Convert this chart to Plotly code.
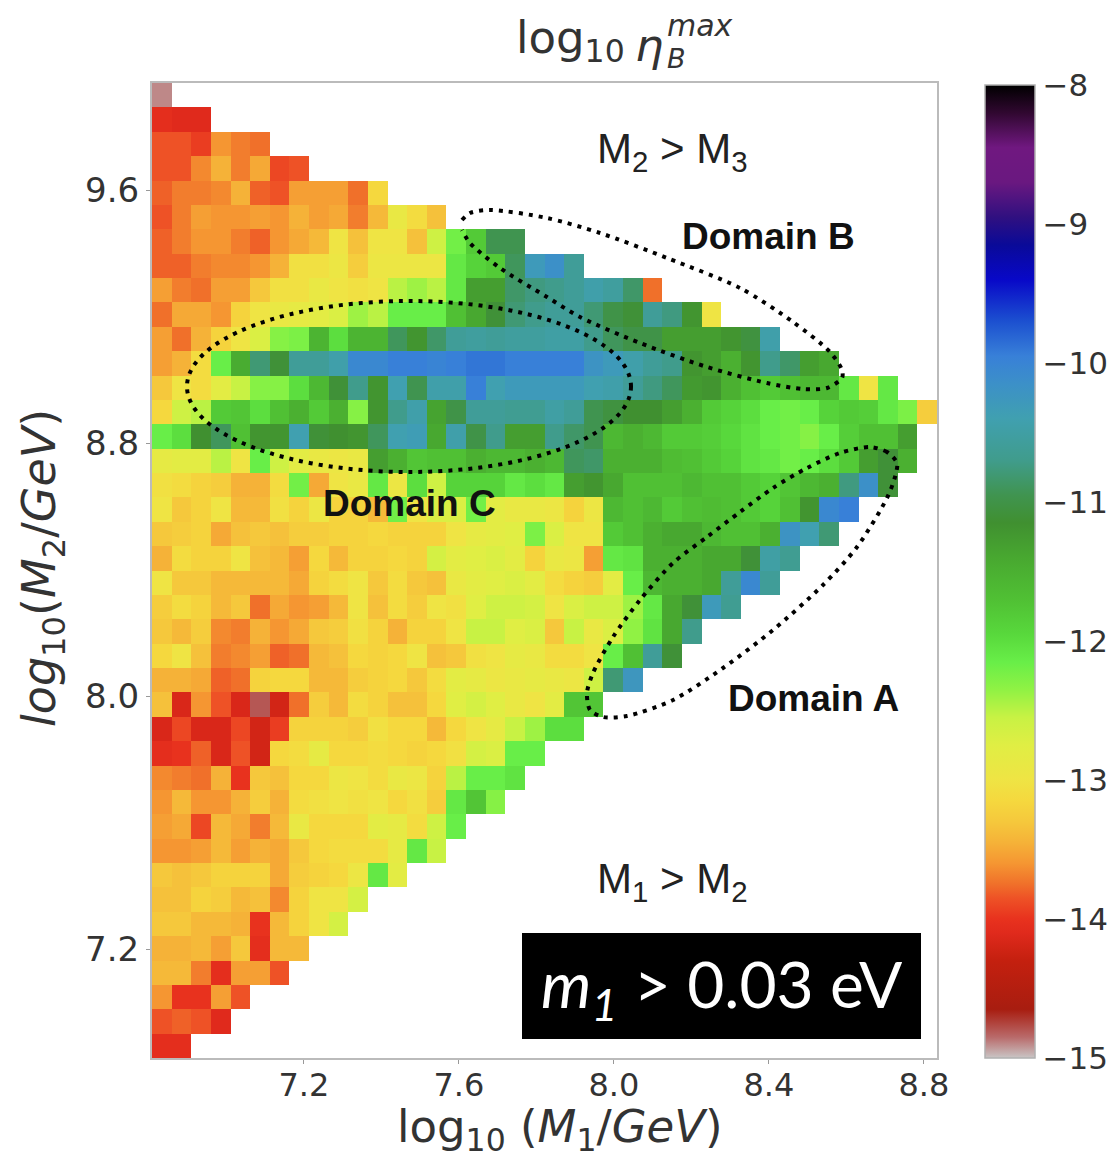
import plotly.graph_objects as go

row_00 = [-14.9]
row_01 = [-14.05,-14.1,-14.1]
row_02 = [-13.85,-13.85,-13.95,-13.6,-13.7,-13.75]
row_03 = [-13.85,-13.85,-13.65,-13.45,-13.7,-13.5,-13.9,-13.85]
row_04 = [-13.8,-13.7,-13.7,-13.65,-13.45,-13.8,-13.85,-13.55,-13.55,-13.55,-13.75,-13.15]
row_05 = [-13.85,-13.7,-13.55,-13.6,-13.6,-13.55,-13.6,-13.45,-13.55,-13.5,-13.7,-13.4,-12.9,-13.1,-13.35]
row_06 = [-13.8,-13.7,-13.6,-13.6,-13.7,-13.8,-13.6,-13.5,-13.4,-13.0,-13.35,-13.0,-13.0,-13.35,-12.6,-12.2,-11.8,-10.95,-10.95]
row_07 = [-13.8,-13.8,-13.7,-13.65,-13.65,-13.6,-13.45,-13.05,-13.05,-12.95,-13.25,-12.95,-12.95,-12.95,-12.95,-12.1,-11.9,-11.8,-10.9,-10.3,-10.15,-10.6]
row_08 = [-13.55,-13.7,-13.75,-13.55,-13.55,-13.3,-13.05,-13.05,-12.9,-13.0,-13.05,-13.0,-12.5,-12.4,-12.5,-12.1,-11.3,-11.3,-10.85,-10.75,-10.7,-10.6,-10.45,-10.55,-10.85,-13.75]
row_09 = [-13.75,-13.5,-13.5,-13.6,-13.2,-13.0,-12.9,-12.85,-12.8,-12.7,-12.4,-12.5,-12.15,-12.15,-12.15,-11.7,-11.4,-11.1,-10.8,-10.7,-10.6,-10.6,-10.8,-11.0,-11.1,-10.6,-10.75,-11.2,-13.0]
row_10 = [-13.55,-13.75,-13.45,-13.2,-13.0,-12.7,-12.3,-12.25,-11.55,-12.0,-11.55,-11.55,-10.9,-11.2,-10.85,-10.6,-10.55,-10.6,-10.55,-10.55,-10.5,-10.5,-10.7,-10.9,-11.0,-11.0,-11.3,-11.3,-11.3,-11.2,-11.05,-10.45]
row_11 = [-13.55,-13.45,-13.1,-12.15,-11.45,-10.8,-11.1,-10.6,-10.6,-10.45,-10.05,-10.05,-9.95,-9.95,-10.0,-9.95,-9.9,-9.9,-9.95,-9.95,-9.95,-9.95,-10.2,-10.3,-10.45,-10.6,-10.7,-11.2,-11.3,-11.5,-11.2,-10.7,-10.85,-11.3,-11.4]
row_12 = [-13.3,-13.0,-13.1,-12.8,-12.55,-12.3,-12.3,-12.0,-11.6,-11.1,-10.7,-11.2,-10.4,-10.95,-10.45,-10.45,-9.95,-10.4,-10.3,-10.3,-10.3,-10.3,-10.4,-10.45,-10.6,-10.75,-10.9,-11.25,-11.2,-11.5,-11.7,-11.8,-11.7,-11.6,-11.6,-12.1,-13.0,-12.1]
row_13 = [-13.15,-12.6,-12.5,-11.8,-11.75,-12.0,-11.7,-11.5,-11.8,-11.5,-12.3,-11.2,-10.7,-10.45,-11.35,-11.0,-10.6,-10.6,-10.65,-10.65,-10.5,-10.6,-10.95,-11.05,-11.15,-11.15,-11.3,-11.5,-11.8,-11.9,-12.0,-12.15,-12.2,-12.15,-11.9,-11.8,-11.85,-12.1,-12.25,-13.25]
row_14 = [-12.15,-12.0,-11.15,-10.9,-11.7,-11.2,-11.2,-10.4,-11.1,-11.15,-11.2,-10.9,-10.4,-10.35,-11.4,-10.45,-11.0,-10.7,-11.3,-11.3,-10.7,-10.85,-10.95,-11.6,-11.5,-11.6,-11.8,-11.8,-11.85,-11.95,-12.05,-12.15,-12.2,-12.3,-12.15,-11.85,-11.7,-11.7,-11.3]
row_15 = [-12.85,-12.8,-12.8,-12.5,-13.0,-12.15,-12.6,-12.8,-12.9,-12.95,-12.9,-11.3,-11.5,-11.75,-11.7,-11.7,-11.5,-11.6,-11.6,-11.5,-11.6,-10.9,-10.85,-11.5,-11.5,-11.5,-11.65,-11.7,-11.8,-11.9,-12.05,-12.1,-12.2,-12.15,-12.0,-11.8,-11.3,-11.1,-11.5]
row_16 = [-13.05,-13.1,-13.2,-13.25,-13.45,-13.45,-13.1,-12.2,-13.5,-13.0,-12.9,-12.1,-12.95,-12.0,-12.6,-11.9,-11.9,-11.9,-12.1,-12.0,-12.1,-11.3,-11.2,-11.4,-11.7,-11.7,-11.7,-11.6,-11.7,-11.7,-11.8,-11.9,-11.75,-11.6,-11.5,-10.75,-10.15,-11.1]
row_17 = [-13.0,-13.3,-13.2,-13.0,-13.4,-13.4,-13.05,-13.2,-12.95,-13.2,-13.2,-13.4,-12.2,-13.0,-12.7,-12.7,-12.2,-12.8,-12.9,-12.9,-12.95,-13.2,-12.95,-11.6,-11.7,-11.6,-11.8,-11.7,-11.65,-11.7,-11.8,-11.9,-11.7,-11.2,-10.05,-9.95]
row_18 = [-13.3,-13.25,-13.2,-13.5,-13.35,-13.3,-13.35,-13.25,-13.25,-13.2,-13.2,-13.15,-13.2,-13.2,-13.2,-13.0,-12.85,-12.8,-12.75,-12.25,-12.7,-13.0,-13.0,-11.8,-11.7,-11.5,-11.4,-11.4,-11.6,-11.7,-11.7,-11.5,-10.2,-10.4,-10.8]
row_19 = [-13.45,-13.1,-13.2,-13.2,-13.0,-13.35,-13.4,-13.55,-13.15,-13.4,-13.2,-13.2,-13.15,-13.2,-12.65,-12.8,-12.75,-12.7,-12.8,-13.2,-12.9,-12.95,-13.55,-12.1,-12.05,-11.5,-11.5,-11.5,-11.4,-11.4,-11.1,-10.5,-10.65]
row_20 = [-13.0,-13.3,-13.3,-13.4,-13.4,-13.4,-13.4,-13.5,-13.2,-13.1,-13.0,-13.3,-13.1,-13.3,-13.35,-12.9,-12.8,-12.75,-12.7,-12.8,-13.1,-13.2,-13.25,-12.8,-12.15,-11.6,-11.5,-11.5,-11.4,-10.6,-10.05,-10.6]
row_21 = [-13.25,-13.1,-13.2,-13.4,-13.3,-13.75,-13.5,-13.6,-13.55,-13.4,-13.0,-13.35,-13.1,-13.25,-13.0,-13.05,-12.75,-12.6,-12.6,-12.65,-13.0,-12.7,-12.6,-12.6,-12.4,-12.1,-11.4,-11.1,-10.3,-10.65]
row_22 = [-13.3,-13.4,-13.25,-13.65,-13.7,-13.45,-13.6,-13.5,-13.3,-13.25,-13.05,-13.2,-13.45,-13.2,-13.2,-13.0,-12.55,-12.55,-12.75,-12.7,-13.3,-12.55,-12.9,-12.7,-12.35,-12.05,-11.4,-10.7]
row_23 = [-13.15,-13.0,-13.35,-13.7,-13.65,-13.55,-13.8,-13.75,-13.4,-13.35,-13.15,-13.2,-13.15,-13.0,-13.35,-13.3,-13.05,-13.0,-12.85,-12.9,-13.1,-13.1,-13.0,-12.15,-11.7,-10.6,-11.1]
row_24 = [-13.45,-13.45,-13.5,-13.8,-13.75,-13.2,-13.15,-13.15,-13.4,-13.4,-13.25,-13.2,-13.15,-13.3,-13.1,-12.8,-12.85,-12.95,-12.9,-12.85,-12.9,-12.95,-12.6,-10.8,-10.25]
row_25 = [-13.35,-14.15,-13.6,-13.85,-14.15,-14.8,-14.2,-13.75,-13.25,-13.4,-13.1,-13.2,-13.35,-13.35,-13.15,-12.75,-12.65,-12.75,-12.9,-13.0,-12.8,-11.75,-11.75]
row_26 = [-14.15,-13.9,-14.15,-14.15,-13.9,-14.2,-13.95,-13.2,-13.2,-13.2,-13.25,-13.05,-13.15,-13.15,-13.4,-13.15,-13.0,-12.85,-12.55,-12.4,-12.0,-12.0]
row_27 = [-14.05,-14.0,-13.8,-14.15,-13.85,-14.2,-13.15,-13.1,-12.85,-13.15,-13.15,-13.1,-13.15,-13.2,-13.15,-13.05,-12.65,-12.7,-12.15,-12.15]
row_28 = [-13.65,-13.7,-13.75,-13.45,-14.0,-13.3,-13.35,-13.15,-13.15,-12.95,-13.0,-13.1,-12.9,-12.95,-13.2,-12.5,-12.15,-12.15,-12.05]
row_29 = [-13.6,-13.4,-13.6,-13.6,-13.45,-13.25,-13.45,-13.1,-13.05,-13.0,-13.05,-13.0,-13.15,-13.05,-13.25,-12.1,-11.75,-12.3]
row_30 = [-13.55,-13.5,-13.9,-13.4,-13.5,-13.7,-13.4,-12.9,-13.15,-13.15,-13.15,-12.8,-12.85,-13.1,-12.6,-12.15]
row_31 = [-13.6,-13.6,-13.55,-13.4,-13.55,-13.45,-13.5,-13.3,-13.15,-13.1,-13.1,-13.1,-12.85,-12.1,-12.55]
row_32 = [-13.3,-13.35,-13.3,-13.2,-13.2,-13.2,-13.5,-13.25,-13.2,-13.15,-12.95,-12.1,-12.8]
row_33 = [-13.35,-13.35,-13.2,-13.25,-13.4,-13.35,-13.65,-13.2,-13.0,-13.0,-12.65]
row_34 = [-13.3,-13.3,-13.4,-13.4,-13.45,-14.0,-13.4,-13.2,-13.0,-12.65]
row_35 = [-13.45,-13.45,-13.4,-13.55,-13.3,-14.05,-13.4,-13.4]
row_36 = [-13.4,-13.4,-13.7,-14.05,-13.55,-13.55,-13.85]
row_37 = [-13.6,-14.0,-14.0,-13.55,-13.85]
row_38 = [-13.85,-13.8,-13.85,-14.1]
row_39 = [-14.05,-14.05]

rows_top_down = [row_00,row_01,row_02,row_03,row_04,row_05,row_06,row_07,row_08,row_09,
                 row_10,row_11,row_12,row_13,row_14,row_15,row_16,row_17,row_18,row_19,
                 row_20,row_21,row_22,row_23,row_24,row_25,row_26,row_27,row_28,row_29,
                 row_30,row_31,row_32,row_33,row_34,row_35,row_36,row_37,row_38,row_39]

x_ticks = [7.2, 7.6, 8.0, 8.4, 8.8]
y_ticks = [7.2, 8.0, 8.8, 9.6]
cbar_ticks = [-8, -9, -10, -11, -12, -13, -14, -15]

color_stops = [(-15,"#c9c5c5"),(-14.85,"#b96a6a"),(-14.65,"#a81d10"),(-14.3,"#c4200f"),(-14.1,"#e02a1c"),
 (-14.0,"#e8321e"),(-13.85,"#ee5226"),(-13.75,"#f0702a"),(-13.6,"#f59632"),(-13.45,"#f5b238"),(-13.3,"#f5c83c"),
 (-13.15,"#f5d83e"),(-13.0,"#efe444"),(-12.75,"#e0ee44"),(-12.55,"#c8f244"),(-12.35,"#90f244"),(-12.15,"#68ee48"),
 (-11.95,"#58d83c"),(-11.7,"#50c034"),(-11.4,"#48a830"),(-11.15,"#409030"),(-10.95,"#409450"),(-10.7,"#409c8c"),
 (-10.4,"#40a0b0"),(-10.15,"#3c90c8"),(-9.95,"#3880d8"),(-9.7,"#1c50d0"),(-9.4,"#0808c8"),(-9.15,"#0a0a98"),
 (-8.95,"#301080"),(-8.7,"#6a1880"),(-8.45,"#701880"),(-8.2,"#300830"),(-8,"#000000")]

# hand-drawn outlines, in axis units
domain_b_x = [6.808+(p-152)/387.5 for p in [462,470,490,547,600,667,740,793,830,842,842,827,803,767,707,640,580,547,500,470,462]]
domain_b_y = [7.2+(949-p)/316.25 for p in [220,213,210,218,233,258,288,322,352,370,378,388,389,383,367,343,317,297,268,243,230]]
domain_a_x = [6.808+(p-152)/387.5 for p in [897,887,870,840,807,773,740,707,673,640,613,593,587,590,603,627,673,723,773,823,857,887,895,897]]
domain_a_y = [7.2+(949-p)/316.25 for p in [463,452,447,453,468,488,512,537,563,600,637,673,693,710,717,716,700,668,630,585,547,498,477,463]]

W, H = 1115, 1158
L, R, T, B = 152, 937, 83, 1058
X_PER = 387.5
Y_PER = 316.25
x_lo = 6.808
x_hi = x_lo + (R - L) / X_PER
y_lo = 7.2 - (B - 949) / Y_PER
y_hi = 7.2 + (949 - T) / Y_PER
n = 40
dx = (x_hi - x_lo) / n
dy = (y_hi - y_lo) / n

z = []
for row in reversed(rows_top_down):
    z.append(list(row) + [None] * (n - len(row)))

cs = [[(v + 15) / 7, c] for v, c in color_stops]

def px(p):
    return (p - L) / (R - L)
def py(p):
    return (B - p) / (B - T)

fig = go.Figure()
fig.add_trace(go.Heatmap(
    z=z, x0=x_lo + dx / 2, dx=dx, y0=y_lo + dy / 2, dy=dy,
    zmin=-15, zmax=-8, colorscale=cs, hoverongaps=False, xgap=0, ygap=0,
    colorbar=dict(
        x=px(985), xanchor="left", xpad=0, y=py(1058), yanchor="bottom", ypad=0,
        len=973, lenmode="pixels", thickness=50, thicknessmode="pixels",
        outlinecolor="#b0b0b0", outlinewidth=1.5,
        tickvals=cbar_ticks, ticktext=["\u2212" + str(-v) for v in cbar_ticks],
        ticks="", ticklabelposition="outside",
        tickfont=dict(family="DejaVu Sans", size=31, color="#333333"),
    ),
))
dash = "4px,6px"
for xs, ys in ((domain_b_x, domain_b_y), (domain_a_x, domain_a_y)):
    fig.add_trace(go.Scatter(x=xs, y=ys, mode="lines", showlegend=False, hoverinfo="skip",
                             line=dict(color="black", width=4, dash=dash, shape="spline", smoothing=0.8)))

def ann(text, x, y, size, family="Liberation Sans", color="#222222", xanchor="center", textangle=0):
    fig.add_annotation(text=text, x=px(x), y=py(y), xref="paper", yref="paper", showarrow=False,
                       xanchor=xanchor, yanchor="middle", textangle=textangle,
                       font=dict(family=family, size=size, color=color))

fig.update_layout(
    width=W, height=H, margin=dict(l=L, r=W - R, t=T, b=H - B),
    paper_bgcolor="white", plot_bgcolor="white", showlegend=False,
    xaxis=dict(range=[x_lo, x_hi], tickvals=x_ticks, ticktext=[f"{v:.1f}" for v in x_ticks],
               ticks="outside", ticklen=4, tickcolor="#999999", showgrid=False, zeroline=False,
               showline=True, linecolor="#bbbbbb", linewidth=2, mirror=True, ticklabelstandoff=-6,
               tickfont=dict(family="DejaVu Sans", size=32, color="#333333")),
    yaxis=dict(range=[y_lo, y_hi], tickvals=y_ticks, ticktext=[f"{v:.1f}" for v in y_ticks],
               ticks="outside", ticklen=4, tickcolor="#999999", showgrid=False, zeroline=False,
               showline=True, linecolor="#bbbbbb", linewidth=2, mirror=True,
               tickfont=dict(family="DejaVu Sans", size=34, color="#333333")),
)

# Domain C ellipse
fig.add_shape(type="circle", xref="x", yref="y",
              x0=x_lo + (187 - L) / X_PER, x1=x_lo + (631 - L) / X_PER,
              y0=7.2 + (949 - 472) / Y_PER, y1=7.2 + (949 - 301) / Y_PER,
              line=dict(color="black", width=4, dash=dash))
# black box
fig.add_shape(type="rect", xref="paper", yref="paper", x0=px(522), x1=px(921), y0=py(1039), y1=py(933),
              fillcolor="black", line=dict(width=0), layer="above")

ann("log<sub>10</sub>", 514, 40, 45, "DejaVu Sans", "#333333", "left")
ann("<i>\u03b7</i>", 633, 45, 45, "DejaVu Sans", "#333333", "left")
ann("<i>max</i>", 665, 25, 30, "DejaVu Sans", "#333333", "left")
ann("<i>B</i>", 665, 58, 27, "DejaVu Sans", "#333333", "left")
ann("log<sub>10</sub> (<i>M</i><sub>1</sub>/<i>GeV</i>)", 560, 1129, 45, "DejaVu Sans", "#333333")
ann("<i>log</i><sub>10</sub>(<i>M</i><sub>2</sub>/<i>GeV</i>)", 42, 568, 46, "DejaVu Sans", "#333333", textangle=-90)
ann("M<sub>2</sub> > M<sub>3</sub>", 672, 151, 42)
ann("M<sub>1</sub> > M<sub>2</sub>", 672, 881, 42)
ann("<b>Domain B</b>", 768, 236, 37, color="#111111")
ann("<b>Domain C</b>", 409, 503, 37, color="#111111")
ann("<b>Domain A</b>", 813, 698, 37, color="#111111")
ann("<i>m<sub>1</sub></i> > 0.03 eV", 722, 988, 64, "Lato", "white")

fig.write_html("out.html", post_script="document.body.style.margin='0';",
               config={"displayModeBar": False})
